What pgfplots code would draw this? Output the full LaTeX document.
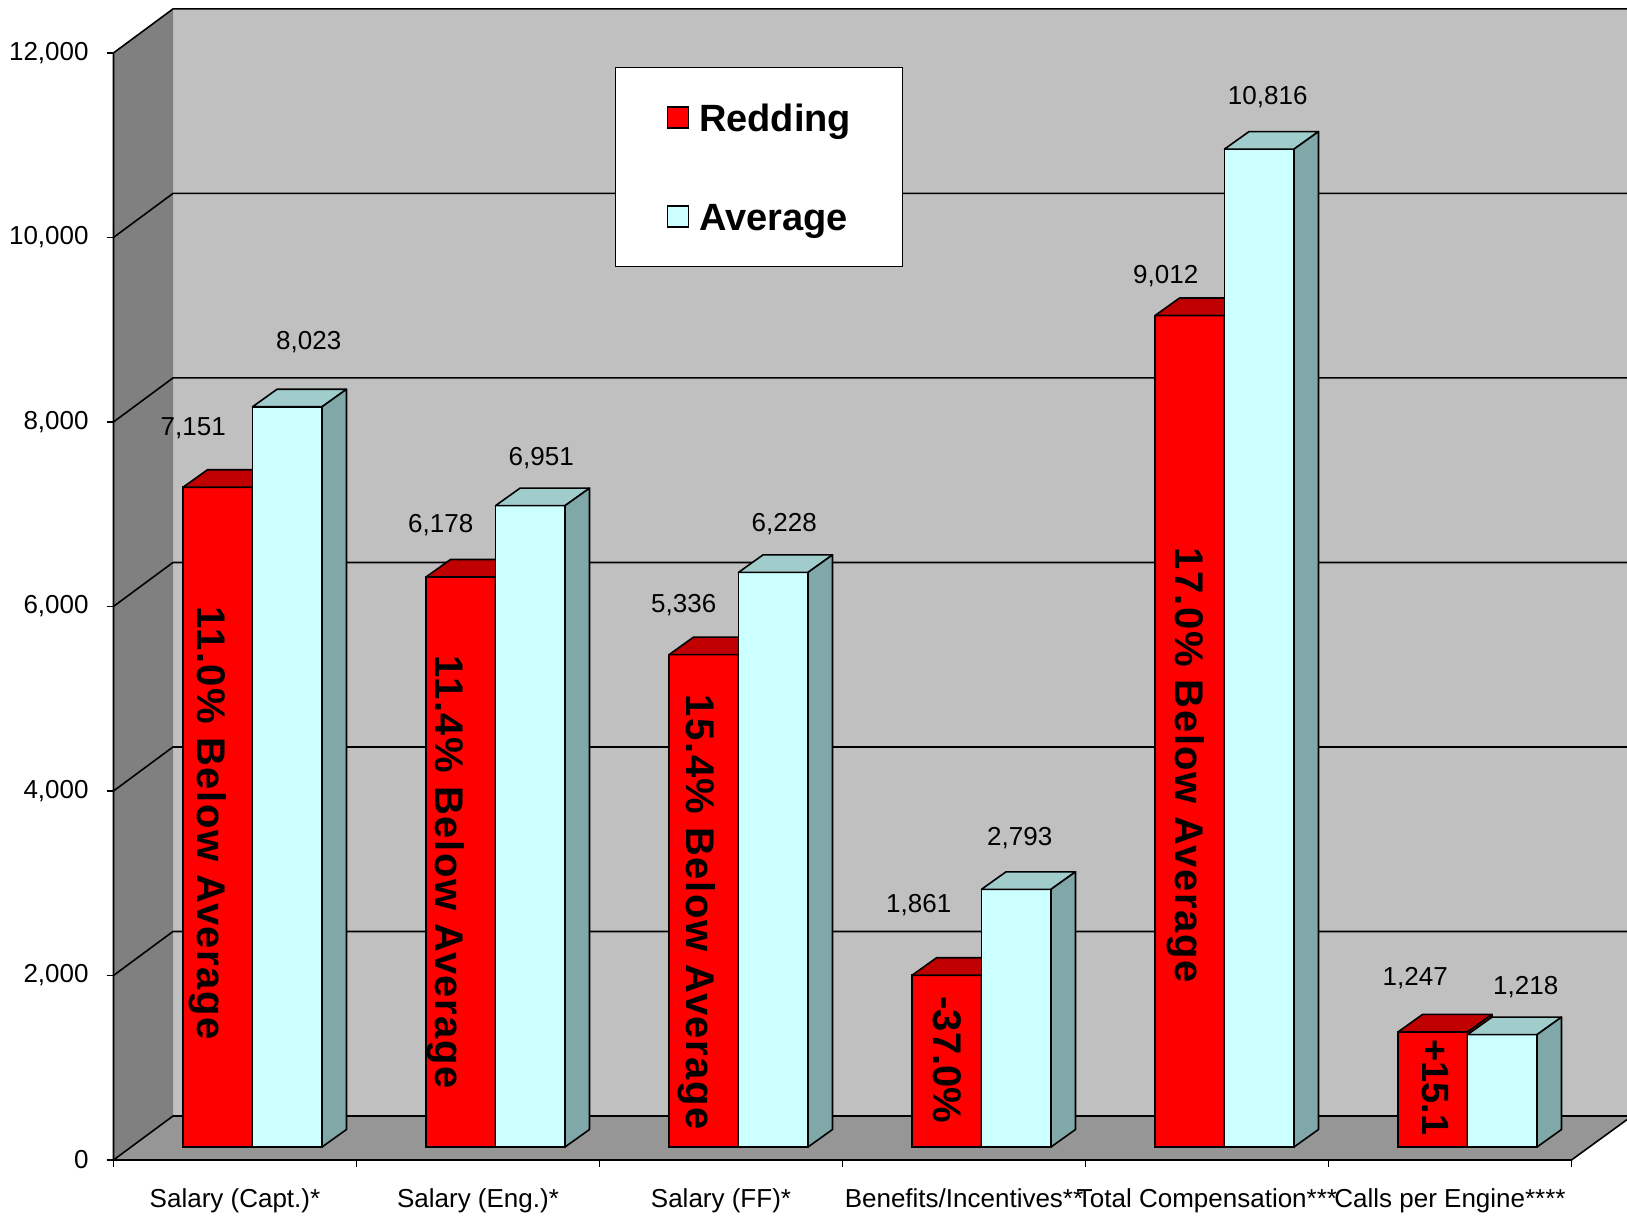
\documentclass[border=0pt]{standalone}
\usepackage{fontspec}
\setmainfont{Liberation Sans}
\newfontfamily\widebold[LetterSpace=4]{Liberation Sans}
\usepackage{pgfplots}
\usepackage{pgfplotstable}
\pgfplotsset{compat=1.18}

\definecolor{wallback}{HTML}{C0C0C0}
\definecolor{wallside}{HTML}{808080}
\definecolor{floorgray}{HTML}{969696}
\definecolor{redfront}{HTML}{FF0000}
\definecolor{redtop}{HTML}{C00000}
\definecolor{cyanfront}{HTML}{CCFFFF}
\definecolor{cyantop}{HTML}{A0CCCC}
\definecolor{cyanside}{HTML}{80A8A8}

\tikzset{
  nofront/.style={draw=none},
  cyanface/.style={fill=cyanfront, draw=black, line width=0.8pt},
}

% x = category, y = value, lx/ly = offset (pt) of the value label
\pgfplotstableread{
x y lx ly
0 7151 -29.625 29.5
1 6178 -27.375 26
2 5336 -27.375 25
3 1861 -31.375 35
4 9012 -29.375 19.5
5 1247 -26.125 27
}\redding

\pgfplotstableread{
x y lx ly
0 8023 28.125 32.25
1 6951 22.875 23.75
2 6228 22.875 24.25
3 2793 19.125 25.5
4 10816 21.625 26.25
5 1218 29.125 24
}\average

\begin{document}
\begin{tikzpicture}
\useasboundingbox (-65.5pt,-36pt) rectangle (748pt,573.5pt);

% walls and floor, in pixels of the original (origin top left)
\begin{scope}[x=0.5pt, y=-0.5pt, shift={(-65.5pt,573.5pt)}]
  \clip (0,0) rectangle (1627,1219);
  \fill[wallback] (173,9) rectangle (1632,1116);
  \fill[wallside] (113.5,53) -- (173,9) -- (173,1116) -- (113.5,1160) -- cycle;
  \fill[floorgray] (113.5,1160) -- (173,1116) -- (1632,1116) -- (1571.5,1160) -- cycle;
  \foreach \v in {0,2000,...,12000} {
    \draw[line width=0.8pt] (113.5,{1160-0.09225*\v}) -- (173,{1116-0.09225*\v}) -- (1632,{1116-0.09225*\v});
    \draw[line width=0.8pt] (107,{1160-0.09225*\v}) -- (113.5,{1160-0.09225*\v});
  }
  \draw[line width=0.8pt] (113.5,53) -- (113.5,1160) -- (1571.5,1160) -- (1632,1116);
  \foreach \k in {0,...,6}
    \draw[line width=0.8pt] ({113.5+243*\k},1160) -- ({113.5+243*\k},1167);
\end{scope}

\begin{axis}[
  at={(0pt,0pt)}, anchor=south west,
  x=121.5pt, y=0.046125pt,
  xmin=-0.5, xmax=5.5, ymin=0, ymax=12000,
  clip=false,
  axis line style={draw=none},
  tick style={draw=none},
  major tick length=0pt,
  xtick={0,1,2,3,4,5},
  xticklabels={Salary (Capt.)*, Salary (Eng.)*, Salary (FF)*, Benefits/Incentives**, Total Compensation***, Calls per Engine****},
  ytick={0,2000,4000,6000,8000,10000,12000},
  scaled y ticks=false,
  tick label style={font=\fontsize{13}{15}\selectfont},
  yticklabel style={/pgf/number format/fixed, /pgf/number format/1000 sep={,},
    /pgf/number format/assume math mode=true,
    anchor=east, inner sep=0pt, xshift=-21pt, yshift=-6.5pt},
  xticklabel style={anchor=base, inner sep=0pt, xshift=-8.75pt, yshift=-30.5pt},
  legend style={at={(0.33196,0.97561)}, anchor=north west,
    draw=black, line width=0.6pt, fill=white,
    inner xsep=25.5pt, inner ysep=16.25pt, row sep=32.5pt,
    font=\bfseries\fontsize{19}{22}\selectfont,
    nodes={inner sep=0pt},
    /tikz/every even column/.append style={text height=15.75pt, text depth=2.25pt}},
  legend cell align=left,
  % 3-d faces of a bar: #1/#2 left/right edge of its front, #3 front style, #4 top, #5 side colour
  faces/.style n args={5}{forget plot, scatter, only marks, mark=text, text mark={},
    visualization depends on={\thisrow{y} \as \val},
    scatter/@pre marker code/.code={
      \path[#3, line join=round]
        (#1,0pt) -- (#2,0pt) -- ++(axis direction cs:0,-\val) -- ++(#1-#2,0pt) -- cycle;
      \filldraw[fill=#4, draw=black, line width=0.8pt, line join=round]
        (#1,0pt) -- (#2,0pt) -- ++(12.25pt,8.75pt) -- ++(#1-#2,0pt) -- cycle;
      \filldraw[fill=#5, draw=black, line width=0.8pt, line join=round]
        (#2,0pt) -- ++(12.25pt,8.75pt) -- ++(axis direction cs:0,-\val) -- ++(-12.25pt,-8.75pt) -- cycle;
    },
    scatter/@post marker code/.code={}},
  values/.style={forget plot, only marks, mark=text, text mark={},
    visualization depends on={\thisrow{y} \as \val},
    visualization depends on={\thisrow{lx} \as \lx},
    visualization depends on={\thisrow{ly} \as \ly},
    nodes near coords={\pgfmathprintnumber[fixed,precision=0,1000 sep={,},assume math mode=true]{\val}},
    every node near coord/.append style={anchor=center, inner sep=0pt, text=black,
      font=\fontsize{13}{15}\selectfont, xshift={\lx pt}, yshift={\ly pt}}},
]

% Redding
\addplot[ybar, bar width=34.75pt, bar shift=-17.375pt,
  fill=redfront, draw=black, line width=0.8pt,
  legend image code/.code={\draw[fill=redfront, draw=black, line width=0.8pt]
    (0pt,-5.25pt) rectangle (10.5pt,5.25pt); \path (15.5pt,0pt);}]
  table[x=x, y=y] {\redding};
\addlegendentry{Redding}
\addplot[faces={-34.75pt}{0pt}{nofront}{redtop}{redtop}] table[x=x, y=y] {\redding};

% Average
\addplot[ybar, bar width=34.75pt, bar shift=17.375pt,
  fill=cyanfront, draw=black, line width=0.8pt,
  legend image code/.code={\draw[fill=cyanfront, draw=black, line width=0.8pt]
    (0pt,-5.25pt) rectangle (10.5pt,5.25pt); \path (15.5pt,0pt);}]
  table[x=x, y=y] {\average};
\addlegendentry{Average}
\addplot[faces={0pt}{34.75pt}{cyanface}{cyantop}{cyanside}] table[x=x, y=y] {\average};

\addplot[values] table[x=x, y=y] {\redding};
\addplot[values] table[x=x, y=y] {\average};

% notes written in the Redding bars
\tikzset{barnote/.style={rotate=-90, inner sep=0pt, text=black}}
\node[barnote, font=\widebold\bfseries\fontsize{20}{22}\selectfont] at (axis cs:-0.183,3507) {11.0\% Below Average};
\node[barnote, font=\widebold\bfseries\fontsize{20}{22}\selectfont] at (axis cs:0.797,2976) {11.4\% Below Average};
\node[barnote, font=\widebold\bfseries\fontsize{20}{22}\selectfont] at (axis cs:1.830,2542) {15.4\% Below Average};
\node[barnote, font=\bfseries\fontsize{20}{22}\selectfont] at (axis cs:2.857,943) {-37.0\%};
\node[barnote, font=\widebold\bfseries\fontsize{20}{22}\selectfont] at (axis cs:3.842,4141) {17.0\% Below Average};
\node[barnote, font=\bfseries\fontsize{19}{21}\selectfont] at (axis cs:4.867,645) {+15.1};

\end{axis}
\end{tikzpicture}
\end{document}
